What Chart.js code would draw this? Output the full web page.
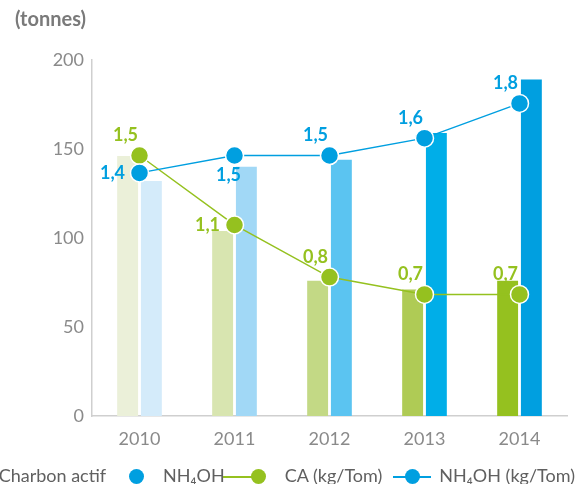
<!DOCTYPE html>
<html>
<head>
<meta charset="utf-8">
<script src="https://cdn.jsdelivr.net/npm/chart.js@4.4.1/dist/chart.umd.min.js"></script>
<style>
    body { margin: 0; background: #fff; overflow: hidden; }
    #wrap { position: relative; width: 582px; height: 484px; overflow: hidden; }
    #unit { position: absolute; left: 15px; top: 6px; font: bold 20px Lato, sans-serif; color: #7a7a7a; }
    #legend { position: absolute; right: 7px; top: 461px; white-space: nowrap; font: 18px Lato, sans-serif; color: #606060; line-height: 24px; }
    #legend .item { display: inline-block; vertical-align: middle; }
    #legend .sym { display: inline-block; position: relative; vertical-align: middle; height: 15px; top: -1px; }
    #legend .dot { position: absolute; top: 0; width: 15px; height: 15px; border-radius: 50%; }
    #legend .line { position: absolute; top: 6.5px; height: 2px; }
</style>
</head>
<body>
<div id="wrap">
    <canvas id="consumptionChart" width="582" height="484"></canvas>
    <div id="unit">(tonnes)</div>
    <div id="legend"></div>
</div>
<script>
const years = ['2010', '2011', '2012', '2013', '2014'];
const charbonActif = [146, 104, 76, 71, 76];
const nh4oh = [132, 140, 144, 159, 189];
const caPerTon = [1.5, 1.1, 0.8, 0.7, 0.7];
const nh4ohPerTon = [1.4, 1.5, 1.5, 1.6, 1.8];
const tonneTicks = [0, 50, 100, 150, 200];

const green = '#95c11f';
const blue = '#009fe0';

// where each value label sits relative to its point
const labelOffsets = {
    tl: [-14, -20],
    l: [-27, 0],
    b: [-6, 20]
};

const valueLabels = {
    id: 'valueLabels',
    afterDatasetsDraw(chart) {
        const ctx = chart.ctx;
        chart.data.datasets.forEach((ds, i) => {
            if (!ds.labelAnchor) return;
            chart.getDatasetMeta(i).data.forEach((pt, j) => {
                const off = labelOffsets[ds.labelAnchor[j]];
                ctx.save();
                ctx.font = 'bold 18px Lato, sans-serif';
                ctx.fillStyle = ds.borderColor;
                ctx.textAlign = 'center';
                ctx.textBaseline = 'middle';
                ctx.fillText(ds.data[j].toFixed(1).replace('.', ','), pt.x + off[0], pt.y + off[1]);
                ctx.restore();
            });
        });
    }
};

const ctx = document.getElementById('consumptionChart').getContext('2d');
const chart = new Chart(ctx, {
    type: 'bar',
    data: {
        labels: years,
        datasets: [
            {
                type: 'line',
                label: 'CA (kg/Tom)',
                data: caPerTon,
                yAxisID: 'ratio',
                borderColor: green,
                backgroundColor: green,
                borderWidth: 1.5,
                pointRadius: 9,
                pointHoverRadius: 9,
                pointBorderColor: '#fff',
                pointBorderWidth: 1.5,
                labelAnchor: ['tl', 'l', 'tl', 'tl', 'tl'],
                legendKind: 'lineEnd',
                order: 1
            },
            {
                type: 'line',
                label: 'NH₄OH (kg/Tom)',
                data: nh4ohPerTon,
                yAxisID: 'ratio',
                borderColor: blue,
                backgroundColor: blue,
                borderWidth: 1.5,
                pointRadius: 9,
                pointHoverRadius: 9,
                pointBorderColor: '#fff',
                pointBorderWidth: 1.5,
                labelAnchor: ['l', 'b', 'tl', 'tl', 'tl'],
                legendKind: 'lineMid',
                order: 0
            },
            {
                label: 'Charbon actif',
                data: charbonActif,
                backgroundColor: ['#ebf0d9', '#d8e5b0', '#c3d985', '#afcb55', green],
                legendColor: green,
                legendKind: 'dot',
                categoryPercentage: 0.5,
                barPercentage: 0.88,
                order: 2
            },
            {
                label: 'NH₄OH',
                data: nh4oh,
                backgroundColor: ['#d4ebfa', '#a1d8f6', '#5bc4f1', '#00aee8', blue],
                legendColor: blue,
                legendKind: 'dot',
                categoryPercentage: 0.5,
                barPercentage: 0.88,
                order: 3
            }
        ]
    },
    options: {
        responsive: false,
        animation: false,
        layout: {
            padding: { left: 0, right: 15, top: 60, bottom: 34 }
        },
        scales: {
            x: {
                grid: { display: false },
                border: { display: true, color: '#cfcfcf', width: 1.5 },
                ticks: {
                    color: '#8a8a8a',
                    padding: 4,
                    font: { family: 'Lato, sans-serif', size: 18 }
                },
                afterFit: s => { s.height = 34; }
            },
            y: {
                min: 0,
                max: 200,
                afterBuildTicks: s => { s.ticks = tonneTicks.map(v => ({ value: v })); },
                grid: { display: false },
                border: { display: true, color: '#cfcfcf', width: 1.5 },
                ticks: {
                    color: '#8a8a8a',
                    padding: 0,
                    font: { family: 'Lato, sans-serif', size: 18 }
                },
                afterFit: s => { s.width = 92; }
            },
            ratio: {
                display: false,
                position: 'right',
                min: 0,
                max: 2.05
            }
        },
        plugins: {
            legend: { display: false },
            tooltip: { enabled: false }
        }
    },
    plugins: [valueLabels]
});

// legend row under the chart: bars first, then the two ratio lines
function buildLegend() {
    const box = document.getElementById('legend');
    const order = [2, 3, 0, 1];
    const gaps = [0, 23, -2, 11];
    order.forEach((i, k) => {
        const ds = chart.data.datasets[i];
        const color = ds.legendColor || ds.borderColor;
        const item = document.createElement('span');
        item.className = 'item';
        item.style.marginLeft = gaps[k] + 'px';
        const sym = document.createElement('span');
        sym.className = 'sym';
        if (ds.legendKind === 'lineMid') {
            sym.style.width = '38px';
            sym.style.marginRight = '8px';
            sym.innerHTML = `<span class="line" style="left:0;width:38px;background:${color}"></span>` +
                `<span class="dot" style="left:11.5px;background:${color}"></span>`;
        } else if (ds.legendKind === 'lineEnd') {
            sym.style.width = '43px';
            sym.style.marginRight = '19px';
            sym.innerHTML = `<span class="line" style="left:0;width:32px;background:${color}"></span>` +
                `<span class="dot" style="left:28px;background:${color}"></span>`;
        } else {
            sym.style.width = '15px';
            sym.style.marginRight = '19px';
            sym.innerHTML = `<span class="dot" style="left:0;background:${color}"></span>`;
        }
        item.appendChild(sym);
        item.appendChild(document.createTextNode(ds.label));
        box.appendChild(item);
    });
}

buildLegend();
</script>
</body>
</html>
